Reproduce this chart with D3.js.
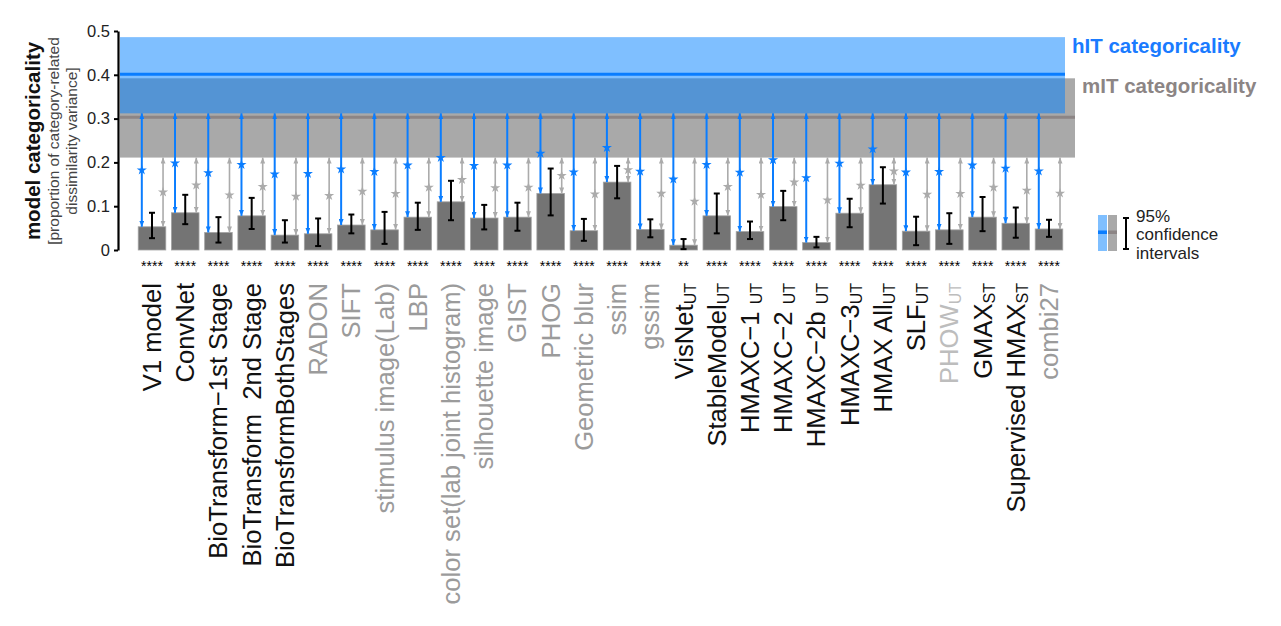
<!DOCTYPE html>
<html>
<head>
<meta charset="utf-8">
<script src="https://cdn.jsdelivr.net/npm/d3@7"></script>
<style>
  body { margin: 0; background: #fff; }
  svg { font-family: "Liberation Sans", Arial, sans-serif; }
  .lbl { white-space: pre; }
</style>
</head>
<body>
<svg id="chart" width="1281" height="626"></svg>
<script>
// model names, subscripts and the group each model belongs to
const modelNames = [
  "V1 model", "ConvNet", "BioTransform\u22121st Stage", "BioTransform  2nd Stage",
  "BioTransformBothStages", "RADON", "SIFT", "stimulus image(Lab)", "LBP",
  "color set(lab joint histogram)", "silhouette image", "GIST", "PHOG",
  "Geometric blur", "ssim", "gssim", "VisNet", "StableModel", "HMAXC\u22121 ",
  "HMAXC\u22122 ", "HMAXC\u22122b ", "HMAXC\u22123", "HMAX All", "SLF", "PHOW",
  "GMAX", "Supervised HMAX", "combi27"
];
const modelSubs = [
  "", "", "", "", "", "", "", "", "", "", "", "", "", "", "", "",
  "UT", "UT", "UT", "UT", "UT", "UT", "UT", "UT", "UT", "ST", "ST", ""
];
const modelGroups = [
  "bio", "bio", "bio", "bio", "bio", "cv", "cv", "cv", "cv", "cv", "cv", "cv", "cv",
  "cv", "cv", "cv", "bio", "bio", "bio", "bio", "bio", "bio", "bio", "bio", "cvt",
  "bio", "bio", "cv"
];

// categoricality of each model and its 95% confidence interval
const categoricality = [
  0.053, 0.085, 0.040, 0.078, 0.034, 0.037, 0.057, 0.046, 0.075, 0.110,
  0.073, 0.075, 0.129, 0.044, 0.155, 0.047, 0.011, 0.078, 0.042, 0.099,
  0.017, 0.084, 0.149, 0.043, 0.046, 0.075, 0.061, 0.048
];
const ciLow = [
  0.027, 0.059, 0.017, 0.048, 0.017, 0.009, 0.038, 0.014, 0.046, 0.068,
  0.047, 0.044, 0.079, 0.021, 0.118, 0.029, 0.002, 0.038, 0.025, 0.068,
  0.006, 0.052, 0.106, 0.011, 0.014, 0.043, 0.028, 0.030
];
const ciHigh = [
  0.085, 0.126, 0.075, 0.119, 0.068, 0.072, 0.081, 0.087, 0.108, 0.158,
  0.103, 0.108, 0.186, 0.071, 0.192, 0.070, 0.025, 0.129, 0.065, 0.135,
  0.030, 0.117, 0.189, 0.076, 0.084, 0.121, 0.097, 0.069
];
// significance of the difference from zero
const significance = [
  "****", "****", "****", "****", "****", "****", "****", "****", "****", "****",
  "****", "****", "****", "****", "****", "****", "**", "****", "****", "****",
  "****", "****", "****", "****", "****", "****", "****", "****"
];

// hIT and mIT categoricality with their confidence intervals
const hitMean = 0.401, hitCI = [0.312, 0.486];
const mitMean = 0.303, mitCI = [0.211, 0.392];

const yTicks = [0, 0.1, 0.2, 0.3, 0.4, 0.5];

const blue = "#0a7dff";
const blueBand = "rgba(0,127,255,0.5)";
const grey = "#a9a9a9";
const greyLine = "#8c8585";
const arrowGrey = "#ababab";
const groupColor = { bio: "#111", cv: "#9b9b9b", cvt: "#bdbdbd" };

const svg = d3.select("#chart");

const data = modelNames.map((name, i) => ({
  name, sub: modelSubs[i], group: modelGroups[i],
  value: categoricality[i], lo: ciLow[i], hi: ciHigh[i], sig: significance[i]
}));

const y = d3.scaleLinear().domain([0, 0.5]).range([250, 31]);
const x = d3.scaleBand()
  .domain(modelNames)
  .range([135.4, 1065.6])
  .paddingInner(0.17)
  .paddingOuter(0.085);
const bw = x.bandwidth();
const cx = d => x(d.name) + bw / 2;

// arrow heads
const defs = svg.append("defs");
[["arrBlue", blue], ["arrGrey", arrowGrey]].forEach(([id, col]) => {
  defs.append("marker")
    .attr("id", id)
    .attr("viewBox", "0 0 10 10")
    .attr("refX", 10).attr("refY", 5)
    .attr("markerWidth", 6).attr("markerHeight", 5)
    .attr("markerUnits", "userSpaceOnUse")
    .attr("preserveAspectRatio", "none")
    .attr("orient", "auto-start-reverse")
    .append("path")
    .attr("d", "M0,0 L10,5 L0,10 z")
    .attr("fill", col);
});

// neural reference bands
const bands = svg.append("g");
bands.append("rect")
  .attr("x", 120).attr("width", 955)
  .attr("y", y(mitCI[1])).attr("height", y(mitCI[0]) - y(mitCI[1]))
  .attr("fill", grey);
bands.append("rect")
  .attr("x", 120).attr("width", 945)
  .attr("y", y(hitCI[1])).attr("height", y(hitCI[0]) - y(hitCI[1]))
  .attr("fill", blueBand);
bands.append("line")
  .attr("x1", 120).attr("x2", 1065)
  .attr("y1", y(hitMean)).attr("y2", y(hitMean))
  .attr("stroke", blue).attr("stroke-width", 3);
bands.append("line")
  .attr("x1", 120).attr("x2", 1075)
  .attr("y1", y(mitMean)).attr("y2", y(mitMean))
  .attr("stroke", greyLine).attr("stroke-width", 3);

// bars
svg.append("g")
  .selectAll("rect")
  .data(data)
  .join("rect")
  .attr("x", d => x(d.name))
  .attr("width", bw)
  .attr("y", d => y(d.value))
  .attr("height", d => y(0) - y(d.value))
  .attr("fill", "#747474")
  .attr("stroke", "#a2a2a2")
  .attr("stroke-width", 0.8);

// error bars
const err = svg.append("g").attr("stroke", "#000").attr("stroke-width", 2);
err.selectAll(".v").data(data).join("line")
  .attr("x1", cx).attr("x2", cx)
  .attr("y1", d => y(d.lo)).attr("y2", d => y(d.hi));
err.selectAll(".t").data(data).join("line")
  .attr("x1", d => cx(d) - 3).attr("x2", d => cx(d) + 3)
  .attr("y1", d => y(d.hi)).attr("y2", d => y(d.hi));
err.selectAll(".b").data(data).join("line")
  .attr("x1", d => cx(d) - 3).attr("x2", d => cx(d) + 3)
  .attr("y1", d => y(d.lo)).attr("y2", d => y(d.lo));

// difference arrows from bar top to the lower bound of each neural interval
const star = d3.symbol().type(d3.symbolStar).size(32);
function diffArrows(xpos, bound, col, marker, width) {
  const g = svg.append("g");
  g.selectAll("line").data(data).join("line")
    .attr("x1", xpos).attr("x2", xpos)
    .attr("y1", y(bound)).attr("y2", d => y(d.value))
    .attr("stroke", col).attr("stroke-width", width)
    .attr("marker-start", `url(#${marker})`)
    .attr("marker-end", `url(#${marker})`);
  g.selectAll("path.star").data(data).join("path")
    .attr("class", "star")
    .attr("d", star)
    .attr("transform", d => `translate(${xpos(d)},${y((bound + d.value) / 2)})`)
    .attr("fill", col);
}
diffArrows(d => x(d.name) + bw * 0.13, hitCI[0], blue, "arrBlue", 2);
diffArrows(d => x(d.name) + bw * 0.9, mitCI[0], arrowGrey, "arrGrey", 1.6);

// y axis
const yAxis = svg.append("g")
  .attr("transform", "translate(118,0)")
  .call(d3.axisLeft(y)
    .tickValues(yTicks)
    .tickSize(4)
    .tickSizeOuter(0)
    .tickPadding(4)
    .tickFormat(d => d === 0 ? "0" : d3.format(".1f")(d)));
yAxis.select(".domain").attr("stroke-width", 2.2);
yAxis.selectAll(".tick line").attr("stroke-width", 2);
yAxis.selectAll("text").attr("font-size", 16.5).attr("fill", "#222")
  .attr("font-family", "Liberation Sans, Arial, sans-serif");

// significance stars
svg.append("g")
  .selectAll("text")
  .data(data)
  .join("text")
  .attr("x", cx).attr("y", 271)
  .attr("text-anchor", "middle")
  .attr("font-size", 14)
  .text(d => d.sig);

// model labels
const lbl = svg.append("g")
  .selectAll("text")
  .data(data)
  .join("text")
  .attr("class", "lbl")
  .attr("transform", d => `translate(${cx(d)},283) rotate(-90)`)
  .attr("text-anchor", "end")
  .attr("dy", "0.35em")
  .attr("font-size", 25.6)
  .attr("fill", d => groupColor[d.group]);
lbl.append("tspan").text(d => d.name);
lbl.filter(d => d.sub).append("tspan")
  .attr("font-size", 16).attr("dy", 3)
  .text(d => d.sub);

// y axis title
const yt = svg.append("g").attr("transform", "translate(40,141) rotate(-90)");
yt.append("text").attr("text-anchor", "middle")
  .attr("font-size", 20.5).attr("font-weight", "bold").attr("fill", "#111")
  .text("model categoricality");
yt.append("text").attr("text-anchor", "middle").attr("y", 18.5)
  .attr("font-size", 15.5).attr("fill", "#444")
  .text("[proportion of category-related");
yt.append("text").attr("text-anchor", "middle").attr("y", 36.5)
  .attr("font-size", 15.5).attr("fill", "#444")
  .text("dissimilarity variance]");

// band titles
svg.append("text").attr("x", 1072).attr("y", 53)
  .attr("font-size", 20.5).attr("font-weight", "bold").attr("fill", "#1a7bff")
  .text("hIT categoricality");
svg.append("text").attr("x", 1082).attr("y", 93)
  .attr("font-size", 20.5).attr("font-weight", "bold").attr("fill", greyLine)
  .text("mIT categoricality");

// legend
const lg = svg.append("g");
lg.append("rect").attr("x", 1098).attr("y", 215).attr("width", 9).attr("height", 36)
  .attr("fill", blueBand);
lg.append("rect").attr("x", 1098).attr("y", 230.5).attr("width", 9).attr("height", 3.5)
  .attr("fill", blue);
lg.append("rect").attr("x", 1108).attr("y", 215).attr("width", 9).attr("height", 36)
  .attr("fill", grey);
lg.append("rect").attr("x", 1108).attr("y", 230.5).attr("width", 9).attr("height", 3.5)
  .attr("fill", greyLine);
const le = lg.append("g").attr("stroke", "#000").attr("stroke-width", 2);
le.append("line").attr("x1", 1126).attr("x2", 1126).attr("y1", 218).attr("y2", 249);
le.append("line").attr("x1", 1123).attr("x2", 1129).attr("y1", 218).attr("y2", 218);
le.append("line").attr("x1", 1123).attr("x2", 1129).attr("y1", 249).attr("y2", 249);
["95%", "confidence", "intervals"].forEach((t, i) => {
  lg.append("text").attr("x", 1136).attr("y", 222 + i * 18.3)
    .attr("font-size", 17).attr("fill", "#222").text(t);
});
</script>
</body>
</html>
